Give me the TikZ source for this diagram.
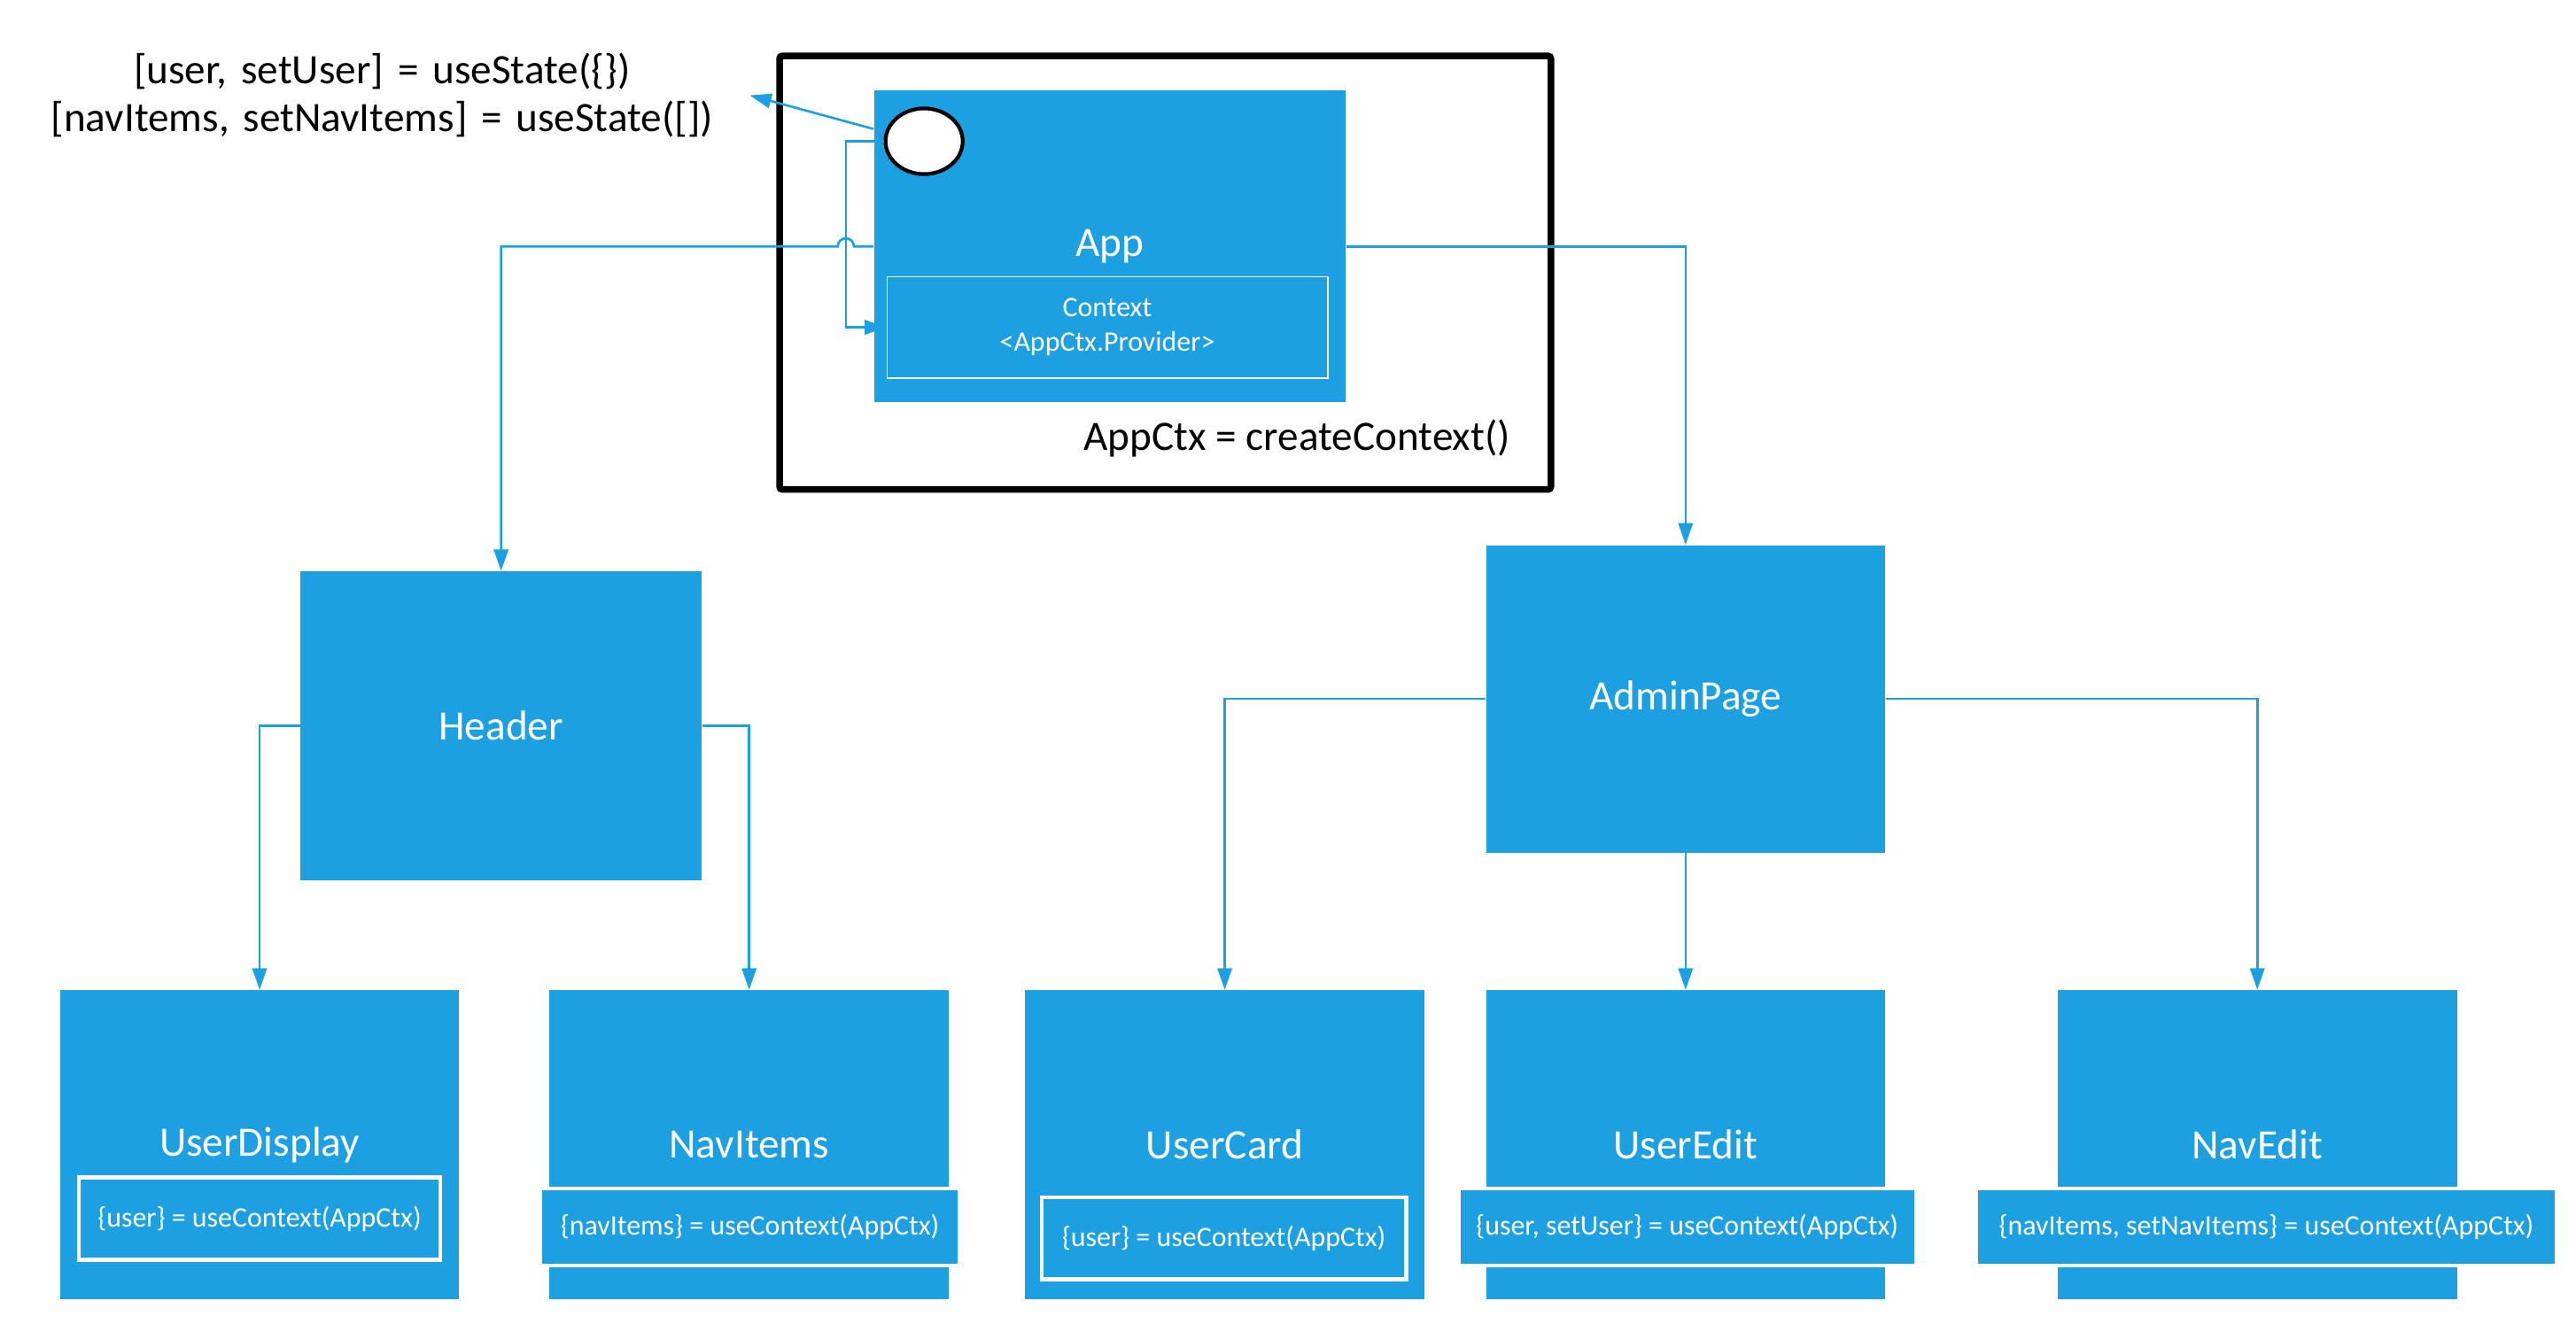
\documentclass[tikz,border=0pt]{standalone}
\usepackage{fontspec}
\setmainfont{Carlito}
\usetikzlibrary{arrows.meta, positioning, shapes.geometric}
\definecolor{compblue}{RGB}{29,160,225}
\tikzset{
    compBox/.style={fill=compblue, draw=none, text=white, inner sep=0pt,
        font=\fontsize{14.5}{17}\selectfont},
    useBox/.style={fill=compblue, draw=white, line width=1.4pt, text=white, inner sep=0pt,
        font=\fontsize{9.8}{12}\selectfont},
    useBand/.style={fill=compblue, draw=white, line width=1.1pt, text=white, inner sep=0pt,
        font=\fontsize{9.8}{12}\selectfont},
    note/.style={text=black, inner sep=0pt, font=\fontsize{14.5}{16.5}\selectfont},
    hook/.style={ellipse, draw=black, fill=white, line width=1.3pt, inner sep=0pt},
    ctxFrame/.style={draw=black, line width=2.3pt, rounded corners=1pt},
    link/.style={draw=compblue, line width=0.8pt, -{Triangle[length=7.5pt, width=5pt]}}
}
\begin{document}
\begin{tikzpicture}[x=0.02cm, y=-0.02cm]
    \def \px {0.02cm}
    \useasboundingbox (0,0) rectangle (1568,806);
    % context frame round App
    \draw[ctxFrame] (474.5,34) rectangle (944,298);
    \node[compBox, minimum width=287*\px, minimum height=190*\px] (app) at (675.5,150) {App};
    \node[hook, minimum width=47*\px, minimum height=40*\px] (hook) at (562.5,86) {};
    \node[useBand, line width=0.6pt, minimum width=268*\px, minimum height=61.5*\px, align=center] (ctx) at (674,199.25) {Context\\<AppCtx.Provider>};
    \node[note] (create) at (789.5,267) {AppCtx = createContext()};
    \node[note, text width=447*\px, align=center] (state) at (232.5,58) {[user, setUser] = useState(\{\})\\{[}navItems, setNavItems] = useState([])};
    % components
    \node[compBox, minimum width=244*\px, minimum height=188*\px] (header) at (305,442) {Header};
    \node[compBox, minimum width=243*\px, minimum height=187*\px] (admin) at (1026,425.5) {AdminPage};
    \foreach \n/\x/\t in {userdisplay/158/UserDisplay, navitems/456/NavItems, usercard/745.5/UserCard, useredit/1026/UserEdit, navedit/1374/NavEdit}
        \node[compBox, minimum width=243*\px, minimum height=188*\px] (\n) at (\x,697) {\t};
    \node[useBox, minimum width=220*\px, minimum height=50*\px] (userdisplayuse) at (158,742) {\{user\} = useContext(AppCtx)};
    \node[useBand, minimum width=255*\px, minimum height=47*\px] (navitemsuse) at (456.5,747) {\{navItems\} = useContext(AppCtx)};
    \node[useBox, minimum width=222*\px, minimum height=50*\px] (usercarduse) at (745,754) {\{user\} = useContext(AppCtx)};
    \node[useBand, minimum width=278*\px, minimum height=47*\px] (useredituse) at (1027,747) {\{user, setUser\} = useContext(AppCtx)};
    \node[useBand, minimum width=353*\px, minimum height=47*\px] (navedituse) at (1379.5,747) {\{navItems, setNavItems\} = useContext(AppCtx)};
    % connectors
    \coordinate (bend) at ([xshift=-23*\px]hook.west);
    \draw[link] (app.west |- 0,78.5) -- (state.east);
    \draw[link] (hook.west) -- (bend) |- (ctx.west);
    \draw[link] (app.west) -- ([xshift=2.8pt]bend |- app.west) arc[start angle=0, end angle=180, radius=2.8pt] -- (app.west -| header.north) -- (header.north);
    \draw[link] (app.east) -| (admin.north);
    \draw[link] (header.west) -| (userdisplay.north);
    \draw[link] (header.east) -| (navitems.north);
    \draw[link] (admin.west) -| (usercard.north);
    \draw[link] (admin.south) -- (useredit.north);
    \draw[link] (admin.east) -| (navedit.north);
\end{tikzpicture}
\end{document}
